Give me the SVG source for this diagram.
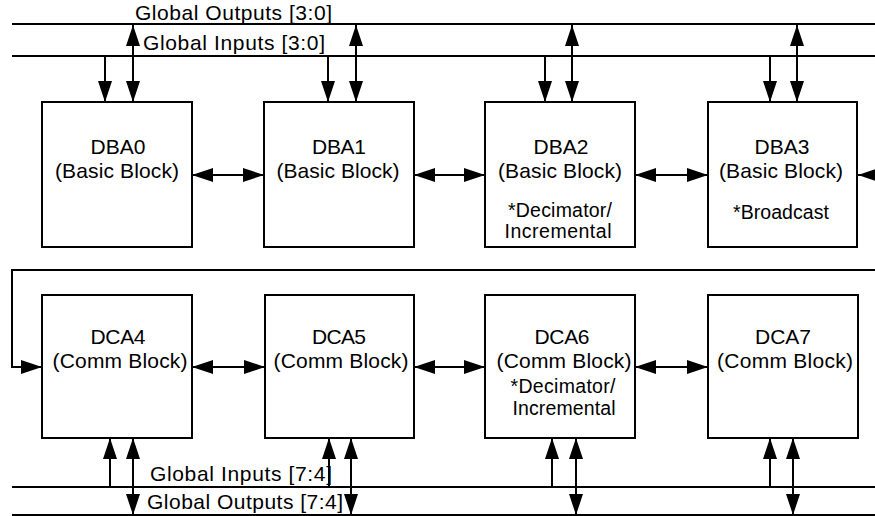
<svg xmlns="http://www.w3.org/2000/svg" width="875" height="516" viewBox="0 0 875 516">
<style>
.box{fill:#fff;stroke:#000;stroke-width:2}
.bus{stroke:#000;stroke-width:2;fill:none}
.c{stroke:#000;stroke-width:2;fill:none}
.t{font-family:"Liberation Sans",Arial,sans-serif;font-size:21px;fill:#000;text-anchor:middle}
.s{font-family:"Liberation Sans",Arial,sans-serif;font-size:19.5px;fill:#000;text-anchor:middle}
.l{font-family:"Liberation Sans",Arial,sans-serif;font-size:21px;fill:#000}
</style>
<defs>
<marker id="ah" viewBox="0 0 21 14" refX="21" refY="7" markerWidth="21" markerHeight="14" markerUnits="userSpaceOnUse" orient="auto-start-reverse"><path d="M0,0 L21,7 L0,14 z" fill="#000"/></marker>
</defs>
<rect width="875" height="516" fill="#fff"/>

<g id="bus-global-outputs-3-0">
<line class="bus" x1="12" y1="24" x2="875" y2="24"/>
<text class="l" x="135" y="20" textLength="197">Global Outputs [3:0]</text>
</g>
<g id="bus-global-inputs-3-0">
<line class="bus" x1="12" y1="56" x2="875" y2="56"/>
<text class="l" x="143" y="50" textLength="182">Global Inputs [3:0]</text>
</g>
<g id="bus-global-inputs-7-4">
<line class="bus" x1="12" y1="487" x2="875" y2="487"/>
<text class="l" x="150" y="481" textLength="182">Global Inputs [7:4]</text>
</g>
<g id="bus-global-outputs-7-4">
<line class="bus" x1="12" y1="515" x2="875" y2="515"/>
<text class="l" x="147" y="509" textLength="196">Global Outputs [7:4]</text>
</g>

<g id="DBA0">
<rect class="box" x="42" y="102" width="150" height="145"/>
<text class="t" x="118" y="154" textLength="55">DBA0</text>
<text class="t" x="117" y="178" textLength="124">(Basic Block)</text>
</g>
<g id="DBA1">
<rect class="box" x="264" y="102" width="150" height="145"/>
<text class="t" x="339" y="154" textLength="54">DBA1</text>
<text class="t" x="338" y="178" textLength="123">(Basic Block)</text>
</g>
<g id="DBA2">
<rect class="box" x="485" y="102" width="150" height="145"/>
<text class="t" x="561" y="154" textLength="55">DBA2</text>
<text class="t" x="560" y="178" textLength="124">(Basic Block)</text>
<text class="s" x="560" y="217" textLength="104">*Decimator/</text>
<text class="s" x="558" y="238" textLength="107">Incremental</text>
</g>
<g id="DBA3">
<rect class="box" x="708" y="102" width="149" height="145"/>
<text class="t" x="782" y="154" textLength="55">DBA3</text>
<text class="t" x="781" y="178" textLength="124">(Basic Block)</text>
<text class="s" x="781" y="219" textLength="96">*Broadcast</text>
</g>

<g id="DCA4">
<rect class="box" x="42" y="295" width="150" height="143"/>
<text class="t" x="118" y="344" textLength="55">DCA4</text>
<text class="t" x="120" y="368" textLength="135">(Comm Block)</text>
</g>
<g id="DCA5">
<rect class="box" x="265" y="295" width="149" height="143"/>
<text class="t" x="339" y="344" textLength="54">DCA5</text>
<text class="t" x="341" y="368" textLength="135">(Comm Block)</text>
</g>
<g id="DCA6">
<rect class="box" x="485" y="295" width="150" height="143"/>
<text class="t" x="562" y="344" textLength="55">DCA6</text>
<text class="t" x="564" y="368" textLength="135">(Comm Block)</text>
<text class="s" x="563" y="393" textLength="105">*Decimator/</text>
<text class="s" x="564" y="415" textLength="103">Incremental</text>
</g>
<g id="DCA7">
<rect class="box" x="708" y="295" width="150" height="143"/>
<text class="t" x="783" y="344" textLength="56">DCA7</text>
<text class="t" x="785" y="368" textLength="136">(Comm Block)</text>
</g>

<g id="connectors">
<line class="c" x1="105" y1="56" x2="105" y2="102" marker-end="url(#ah)"/>
<line class="c" x1="133" y1="25" x2="133" y2="102" marker-start="url(#ah)" marker-end="url(#ah)"/>
<line class="c" x1="328" y1="56" x2="328" y2="102" marker-end="url(#ah)"/>
<line class="c" x1="356" y1="25" x2="356" y2="102" marker-start="url(#ah)" marker-end="url(#ah)"/>
<line class="c" x1="545" y1="56" x2="545" y2="102" marker-end="url(#ah)"/>
<line class="c" x1="572" y1="25" x2="572" y2="102" marker-start="url(#ah)" marker-end="url(#ah)"/>
<line class="c" x1="770" y1="56" x2="770" y2="102" marker-end="url(#ah)"/>
<line class="c" x1="797" y1="25" x2="797" y2="102" marker-start="url(#ah)" marker-end="url(#ah)"/>

<line class="c" x1="192" y1="175" x2="264" y2="175" marker-start="url(#ah)" marker-end="url(#ah)"/>
<line class="c" x1="414" y1="175" x2="485" y2="175" marker-start="url(#ah)" marker-end="url(#ah)"/>
<line class="c" x1="635" y1="175" x2="708" y2="175" marker-start="url(#ah)" marker-end="url(#ah)"/>
<line class="c" x1="880" y1="175" x2="858" y2="175" marker-end="url(#ah)"/>

<path class="c" d="M875,270 H12 V367 H42" marker-end="url(#ah)"/>
<line class="c" x1="192" y1="367" x2="265" y2="367" marker-start="url(#ah)" marker-end="url(#ah)"/>
<line class="c" x1="414" y1="367" x2="485" y2="367" marker-start="url(#ah)" marker-end="url(#ah)"/>
<line class="c" x1="635" y1="367" x2="708" y2="367" marker-start="url(#ah)" marker-end="url(#ah)"/>

<line class="c" x1="110" y1="487" x2="110" y2="438" marker-end="url(#ah)"/>
<line class="c" x1="133" y1="515" x2="133" y2="438" marker-start="url(#ah)" marker-end="url(#ah)"/>
<line class="c" x1="329" y1="487" x2="329" y2="438" marker-end="url(#ah)"/>
<line class="c" x1="351" y1="515" x2="351" y2="438" marker-start="url(#ah)" marker-end="url(#ah)"/>
<line class="c" x1="552" y1="487" x2="552" y2="438" marker-end="url(#ah)"/>
<line class="c" x1="576" y1="515" x2="576" y2="438" marker-start="url(#ah)" marker-end="url(#ah)"/>
<line class="c" x1="770" y1="487" x2="770" y2="438" marker-end="url(#ah)"/>
<line class="c" x1="793" y1="515" x2="793" y2="438" marker-start="url(#ah)" marker-end="url(#ah)"/>
</g>
</svg>
